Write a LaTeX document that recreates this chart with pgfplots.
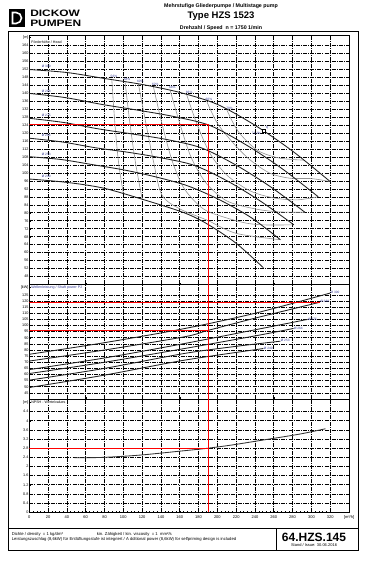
\documentclass[border=0pt]{standalone}
\usepackage{pgfplots}
\pgfplotsset{compat=1.18}
\usepackage{fontspec}
\setmainfont{Liberation Sans}
\definecolor{lblue}{RGB}{55,60,150}
\pgfplotsset{
  pump/.style={
    scale only axis, width=319.7pt,
    xmin=0, xmax=340,
    xtick={0,20,...,320},
    xtick pos=bottom, ytick pos=left,
    grid=major,
    major grid style={black, line width=0.7pt, dash pattern=on 4pt off 1.1pt on 1pt off 1.1pt},
    axis line style={black, line width=0.9pt},
    tick style={black, line width=0.4pt},
    major tick length=1.5pt,
    minor tick length=1pt,
    yticklabel style={font=\fontsize{3.8}{4}\selectfont, inner sep=0.6pt},
    xticklabel style={font=\fontsize{4}{5}\selectfont},
    /pgf/number format/assume math mode=true,
    extra y tick style={grid=none},
    extra x tick style={grid=none},
  },
  hc/.style={black!88, line width=0.85pt, smooth},
  ec/.style={black!42, line width=0.6pt, smooth},
  rl/.style={red, line width=0.8pt},
}
\tikzset{lbl/.style={font=\fontsize{3.2}{3.5}\selectfont, text=lblue, inner sep=0.3pt}}
\begin{document}
\begin{tikzpicture}
\begin{scope}[x=1pt,y=1pt]
\useasboundingbox (0,0) rectangle (370,565);
\end{scope}

% ---------------- Head ----------------
\begin{axis}[pump, at={(29.3pt,280.5pt)}, anchor=south west, height=248.8pt,
  ymin=44, ymax=169, ytick={48,52,...,164}, xticklabels={},
  extra y ticks={168.3}, extra y tick labels={[m]}]
% efficiency iso-lines
\addplot[ec] coordinates {(87.7,147.3) (91,125) (95,105) (100,89.7)};
\addplot[ec] coordinates {(101.8,146) (107,125) (113,105) (120,87)};
\addplot[ec] coordinates {(116,144.8) (124,125) (132,106) (141,89) (160,82) (188.7,76.4) (220,69.7) (267,66.5)};
\addplot[ec] coordinates {(132,143.3) (141,125) (152,106) (165,92) (185,82) (206,78) (231,74.8) (252.6,73.9) (281.3,74)};
\addplot[ec] coordinates {(149.7,141.7) (160,125) (172,108) (188,95) (210,86) (240,82) (265,80.5) (293.1,80.3)};
\addplot[ec] coordinates {(167.4,139.3) (178,125) (192,110) (210,99) (235,91) (260,87.5) (284.5,86.5) (307.2,88.1)};
\addplot[ec] coordinates {(188.7,136) (200,125) (217,115) (234.8,106.6) (256,99.9) (277,97.4) (300,97.2) (320,95.7)};
\addplot[ec] coordinates {(210,131.8) (222,121) (242,111.6) (263,107.8) (280,106.8) (292,106.5)};
% head curves
\addplot[hc] table {
0 152
40 150.5
80 147.5
120 144.5
160 140.5
200 134.5
240 124
280 111
320 95.7
};
\addplot[hc] table {
0 140
38.4 137.9
76.8 134.5
115.2 131.6
153.6 128.4
192 123.9
230.4 114.2
268.8 102.2
307.2 88.1
};
\addplot[hc] table {
0 127.5
36.6 125.4
73.3 122.2
109.9 119.6
146.6 116.8
183.2 112.6
219.8 104.0
256.5 93.1
293.1 80.3
};
\addplot[hc] table {
0 117.5
35.2 115.6
70.3 112.7
105.5 110.4
140.6 107.6
175.8 103.8
211 95.9
246.1 85.8
281.3 74.0
};
\addplot[hc] table {
0 108.2
33.8 106.8
67.5 104.2
101.3 101.5
135 98
168.8 93.5
202.6 86.5
236.3 77.5
267 66.5
};
\addplot[hc] table {
0 97
40 95.3
80 92.3
128 85.7
166 79.8
190 74.2
220 64.7
249 52.4
};
% best efficiency point
\addplot[only marks, mark=square*, mark size=1.5pt, mark options={fill=white, draw=black, line width=0.4pt}] coordinates {(249,121.1)};
% red duty point
\addplot[rl] coordinates {(0,124.4) (190,124.4) (190,44)};
% labels
\node[lbl, anchor=south] at (axis cs:18,152.6) {Ø 300};
\node[lbl, anchor=south] at (axis cs:18,140.4) {Ø 288};
\node[lbl, anchor=south] at (axis cs:18,127.9) {Ø 275};
\node[lbl, anchor=south] at (axis cs:18,117.9) {Ø 264};
\node[lbl, anchor=south] at (axis cs:18,108.6) {Ø 253};
\node[lbl, anchor=south] at (axis cs:18,97.4) {Ø 240};
\node[lbl, anchor=south] at (axis cs:90,147.6) {56\%};
\node[lbl, anchor=south] at (axis cs:104,146.4) {58\%};
\node[lbl, anchor=south] at (axis cs:118,145.2) {60\%};
\node[lbl, anchor=south] at (axis cs:134,143.7) {62\%};
\node[lbl, anchor=south] at (axis cs:152,142.1) {64\%};
\node[lbl, anchor=south] at (axis cs:170,139.8) {66\%};
\node[lbl, anchor=south] at (axis cs:191,136.4) {68\%};
\node[lbl, anchor=south] at (axis cs:213,131.9) {70\%};
\node[lbl, anchor=north east] at (axis cs:247,120.5) {71,2\%};
\node[lbl, anchor=south west] at (axis cs:251,121.6) {Q};
\node[anchor=west, fill=white, inner sep=0.4pt, font=\fontsize{3.6}{4}\selectfont] at (axis cs:1.5,165.6) {Förderhöhe / Head};
\end{axis}

% ---------------- Power ----------------
\begin{axis}[pump, at={(29.3pt,166pt)}, anchor=south west, height=114.5pt,
  ymin=40, ymax=133.5, ytick={45,50,...,125}, xticklabels={},
  extra y ticks={131}, extra y tick labels={[kW]}]
\addplot[hc] coordinates {(0,76.5) (80,86) (165,97.5) (240,110) (320,126.5)};
\addplot[hc] coordinates {(0,71) (80,80) (165,90.8) (190,96) (240,106) (309,119)};
\addplot[hc] coordinates {(0,64) (80,73.5) (165,85.3) (240,96.5) (296,105)};
\addplot[hc] coordinates {(0,60.8) (80,70) (165,81.2) (240,91.5) (281,97.6)};
\addplot[hc] coordinates {(0,55.4) (80,65) (165,77.2) (220,83) (267,87.2)};
\addplot[hc] coordinates {(0,49.4) (80,59.5) (165,71.7) (249,81.2)};
\addplot[rl] coordinates {(0,119) (309,119)};
\addplot[rl] coordinates {(0,96) (190,96)};
\addplot[rl] coordinates {(190,40) (190,133.5)};
\node[lbl, anchor=west] at (axis cs:320,126.8) {Ø 300};
\node[lbl, anchor=west] at (axis cs:309,119.3) {Ø 288};
\node[lbl, anchor=west] at (axis cs:296,105.3) {Ø 275};
\node[lbl, anchor=west] at (axis cs:281,97.9) {Ø 264};
\node[lbl, anchor=west] at (axis cs:267,87.5) {Ø 253};
\node[lbl, anchor=west] at (axis cs:249,81.5) {Ø 240};
\node[anchor=west, fill=white, inner sep=0.4pt, font=\fontsize{3.6}{4}\selectfont, text=lblue] at (axis cs:1.5,131) {Wellenleistung / Shaft power P2};
\end{axis}

% ---------------- NPSH ----------------
\begin{axis}[pump, at={(29.3pt,52.7pt)}, anchor=south west, height=113.3pt,
  ymin=0, ymax=4.95, ytick={0,0.4,0.8,1.2,1.6,2,2.4,2.8,3.2,3.6,4,4.4},
  yticklabel style={/pgf/number format/fixed, /pgf/number format/precision=1},
  minor x tick num=4,
  extra y ticks={4.8}, extra y tick labels={[m]},
  extra x ticks={340}, extra x tick labels={[m³/h]}]
\addplot[black!80, line width=0.85pt, smooth] coordinates {(48,2.38) (79,2.4) (118,2.5) (167,2.7) (190,2.8) (217,2.95) (252,3.18) (288,3.42) (315,3.65)};
\addplot[rl] coordinates {(0,2.8) (190,2.8)};
\addplot[rl] coordinates {(190,0) (190,4.95)};
\node[anchor=west, fill=white, inner sep=0.4pt, font=\fontsize{3.6}{4}\selectfont] at (axis cs:1.5,4.8) {NPSH - Werte/values};
\end{axis}

% ---------------- frame, header, footer ----------------
\begin{scope}[x=1pt,y=1pt]
\draw[line width=0.8pt] (8,533.3) -- (358,533.3) -- (358,15) -- (8,15) -- cycle;
\draw[line width=0.8pt] (8,36.7) -- (358,36.7);
\draw[line width=0.8pt] (276,36.7) -- (276,15);
% logo
\fill (9.3,538.3) rectangle (25,555.7);
\draw[white, line width=1.6pt] (12.5,541.5) -- (12.5,552.5) -- (16,552.5) arc (90:-90:5.5) -- cycle;
\node[anchor=west, font=\fontsize{9.3}{10}\selectfont\bfseries, xscale=1.28, inner sep=0] at (30,551.7) {DICKOW};
\node[anchor=west, font=\fontsize{9.3}{10}\selectfont\bfseries, xscale=1.28, inner sep=0] at (30,541.7) {PUMPEN};
% titles
\node[font=\fontsize{5.3}{6}\selectfont\bfseries] at (221,559) {Mehrstufige Gliederpumpe / Multistage pump};
\node[font=\fontsize{9.5}{11}\selectfont\bfseries] at (221,548.5) {Type HZS 1523};
\node[font=\fontsize{5.3}{6}\selectfont\bfseries] at (221,536.8) {Drehzahl / Speed~~n = 1750 1/min};
% footer
\node[anchor=west, font=\fontsize{4.2}{5}\selectfont, inner sep=0] at (11.7,31) {Dichte / density~~=~1 kg/dm³};
\node[anchor=west, font=\fontsize{4.2}{5}\selectfont, inner sep=0] at (96.7,31) {kin. Zähigkeit / kin. viscosity~~=~1~~mm²/s};
\node[anchor=west, font=\fontsize{4.2}{5}\selectfont, inner sep=0] at (11.7,25.5) {Leistungszuschlag (8,6kW) für Entlüftungsstufe ist integriert / A dditional power (8,6kW) for selfpriming design is included};
\node[font=\fontsize{12}{13}\selectfont\bfseries] at (314,28) {64.HZS.145};
\node[font=\fontsize{4}{5}\selectfont] at (314,19.5) {Stand / Issue: 30.06.2016};
\end{scope}
\end{tikzpicture}
\end{document}
